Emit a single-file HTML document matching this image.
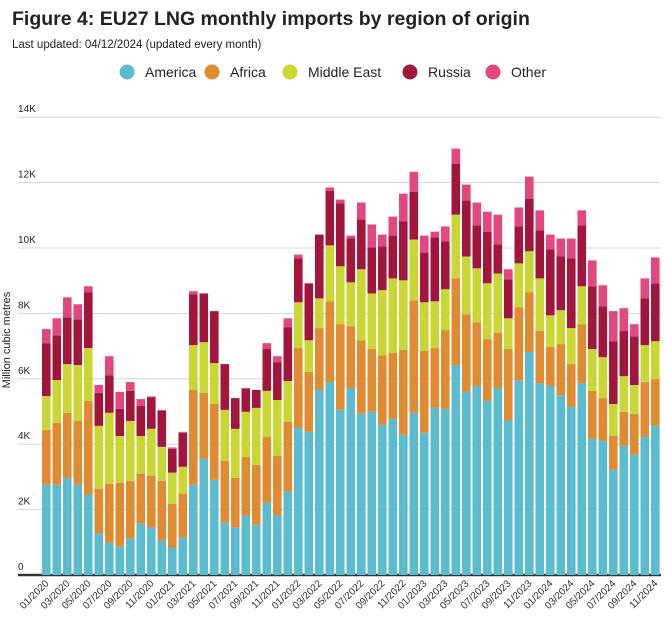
<!DOCTYPE html>
<html><head><meta charset="utf-8">
<style>
body{margin:0;background:#fff;font-family:"Liberation Sans",sans-serif;}
#wrap{position:relative;width:665px;height:621px;overflow:hidden;}
</style></head>
<body>
<div id="wrap">
<svg id="chart" width="665" height="621">
<text x="12" y="25" font-size="19.5" font-weight="bold" fill="#222">Figure 4: EU27 LNG monthly imports by region of origin</text>
<text x="12" y="48" font-size="11.5" fill="#222">Last updated: 04/12/2024 (updated every month)</text>
<g id="legend"></g>
<g id="grid"></g>
<g id="bars"></g>
<g id="xlabels"></g>
<text transform="translate(10,340) rotate(-90)" text-anchor="middle" font-size="11" fill="#222">Million cubic metres</text>
</svg>
</div>
<script>
const categories=["01/2020","02/2020","03/2020","04/2020","05/2020","06/2020","07/2020","08/2020","09/2020","10/2020","11/2020","12/2020","01/2021","02/2021","03/2021","04/2021","05/2021","06/2021","07/2021","08/2021","09/2021","10/2021","11/2021","12/2021","01/2022","02/2022","03/2022","04/2022","05/2022","06/2022","07/2022","08/2022","09/2022","10/2022","11/2022","12/2022","01/2023","02/2023","03/2023","04/2023","05/2023","06/2023","07/2023","08/2023","09/2023","10/2023","11/2023","12/2023","01/2024","02/2024","03/2024","04/2024","05/2024","06/2024","07/2024","08/2024","09/2024","10/2024","11/2024"];
const america=[2.76,2.76,2.97,2.76,2.46,1.27,0.99,0.87,1.11,1.57,1.45,1.05,0.84,1.15,2.76,3.55,2.91,1.60,1.45,1.82,1.54,2.21,1.82,2.55,4.50,4.38,5.66,5.90,5.05,5.72,4.93,4.99,4.59,4.77,4.29,4.96,4.35,5.11,5.08,6.42,5.60,5.78,5.32,5.72,4.74,5.96,6.82,5.87,5.78,5.50,5.14,5.87,4.16,4.10,3.22,3.95,3.68,4.22,4.56];
const africa=[1.68,1.89,1.99,1.95,2.86,1.37,1.80,1.95,1.77,1.53,1.59,1.83,1.34,1.34,2.90,2.02,2.32,1.89,1.52,1.79,1.83,2.01,1.83,2.13,2.44,1.83,1.89,2.47,2.62,1.89,2.25,1.92,2.13,2.02,2.59,3.44,2.50,1.83,2.41,2.65,2.37,1.95,1.89,1.68,2.17,2.23,1.83,1.59,1.19,1.56,1.31,1.80,1.47,1.31,1.03,1.04,1.25,1.68,1.43];
const middleEast=[1.03,1.31,1.49,1.71,1.62,1.92,2.17,1.43,1.83,1.15,1.43,1.04,0.95,0.82,1.37,1.55,1.25,1.56,1.50,1.38,1.74,1.41,1.70,1.25,1.40,0.97,0.91,1.71,1.77,1.34,2.17,1.70,1.99,2.28,2.13,1.86,1.49,1.43,1.25,1.95,1.77,1.65,1.71,1.82,0.94,1.34,1.25,1.61,0.97,1.04,1.10,1.16,1.28,1.25,0.98,1.09,0.88,1.13,1.16];
const russia=[1.62,1.37,1.43,1.40,1.71,1.01,1.15,0.83,0.92,0.92,0.97,1.10,0.73,1.04,1.55,1.49,1.59,1.40,0.94,0.70,0.55,1.28,1.16,1.65,1.34,1.74,1.95,1.67,1.92,1.34,1.52,1.41,1.34,1.31,1.80,1.46,1.52,1.95,1.46,1.56,1.71,1.31,1.58,0.89,1.19,1.13,1.61,1.47,2.02,1.64,2.13,1.86,1.92,1.56,1.92,1.38,1.49,1.43,1.77];
const other=[0.43,0.52,0.61,0.46,0.18,0.24,0.58,0.52,0.27,0.21,0.02,0.03,0.04,0.03,0.10,0,0,0,0,0.03,0,0.18,0.18,0.27,0.12,0,0,0.10,0.12,0.09,0.52,0.70,0.36,0.58,0.85,0.61,0.52,0.18,0.46,0.46,0.49,0.70,0.61,0.91,0.31,0.58,0.67,0.61,0.45,0.55,0.61,0.46,0.79,0.64,0.92,0.70,0.37,0.61,0.79];
const seriesNames=["America","Africa","Middle East","Russia","Other"];
const yTicks=[0,2,4,6,8,10,12,14];
const yTickLabels=["0","2K","4K","6K","8K","10K","12K","14K"];

const colors=["#5bbcd0","#e08b32","#c9d634","#a2163c","#e2487f"];
const series=[america,africa,middleEast,russia,other];
const NS="http://www.w3.org/2000/svg";
const y0=575, pxPerK=32.7, x0=42, step=10.5, bw=8.6;
const yScale=v=>y0-v*pxPerK;
const xScale=i=>x0+i*step;
function mk(tag,attrs,parent){const e=document.createElementNS(NS,tag);for(const k in attrs)e.setAttribute(k,attrs[k]);parent.appendChild(e);return e;}
const grid=document.getElementById('grid');
yTicks.forEach((t,i)=>{
  const y=yScale(t);
  const l=mk('line',{x1:18,x2:661,y1:y,y2:y,stroke:i===0?'#333':'#d6d6d6','stroke-width':i===0?2.5:1},grid);
  
  
  const tx=mk('text',{x:18,y:y-5,'font-size':10,fill:'#222'},grid);
  tx.textContent=yTickLabels[i];
  
  
});
const bars=document.getElementById('bars');
categories.forEach((c,i)=>{
  let cum=0;
  series.forEach((s,k)=>{
    const v=s[i]; if(v<=0)return;
    const yt=yScale(cum+v), yb=yScale(cum);
    const r=mk('rect',{x:xScale(i),y:yt,width:bw,height:yb-yt,fill:colors[k]},bars);
    
    
    cum+=v;
  });
});
const xl=document.getElementById('xlabels');
categories.forEach((c,i)=>{
  if(i%2)return;
  const x=xScale(i)+bw/2+3, y=584;
  const t=mk('text',{x:x,y:y,'text-anchor':'end','font-size':10,fill:'#333',transform:`rotate(-45 ${x} ${y})`},xl);
  t.textContent=c;
  
  
});
const lg=document.getElementById('legend');
const lgX=[127,212,290,410,493];
seriesNames.forEach((n,k)=>{
  const g=mk('g',{},lg);
  
  
  mk('circle',{cx:lgX[k],cy:72,r:7.5,fill:colors[k]},g);
  const t=mk('text',{x:lgX[k]+18,y:77,'font-size':14,fill:'#222'},g);
  t.textContent=n;
});
</script>
</body></html>
